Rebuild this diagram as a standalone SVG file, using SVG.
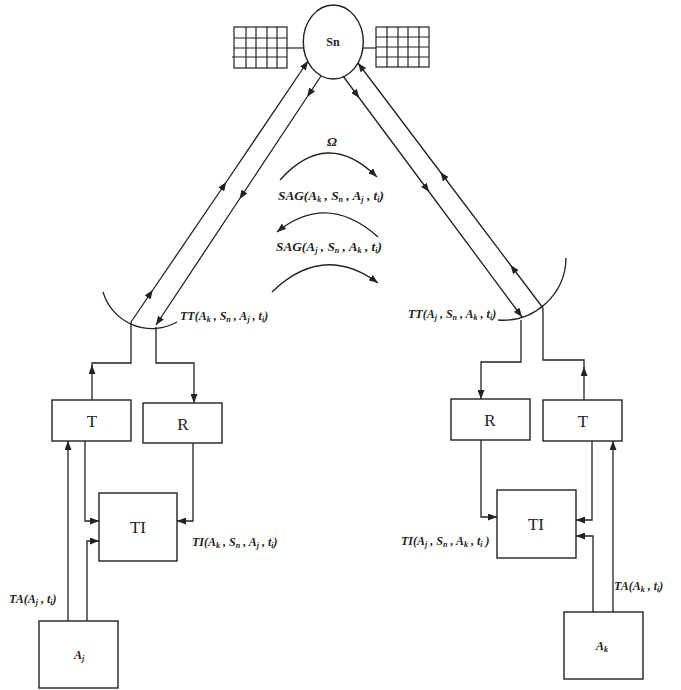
<svg xmlns="http://www.w3.org/2000/svg" width="681" height="690" viewBox="0 0 681 690">
<defs>
<style>
.ln{fill:none;stroke:#222;stroke-width:1.3}
.box{fill:#fff;stroke:#222;stroke-width:1.4}
.grid{fill:none;stroke:#222;stroke-width:1.2}
.lbl{font-family:"Liberation Serif",serif;font-style:italic;font-weight:bold;font-size:12px;fill:#222}
.sag{font-size:13.3px}
.sub{font-size:8px}
.big{font-family:"Liberation Serif",serif;font-size:17px;fill:#222}
.arr{marker-end:url(#ah)}
.arrm{marker-mid:url(#ah);marker-end:url(#ah)}
</style>
<marker id="ah" markerUnits="userSpaceOnUse" markerWidth="9" markerHeight="7" refX="9" refY="3.5" orient="auto">
<path d="M0,0 L9,3.5 L0,7 z" fill="#222"/>
</marker>
</defs>
<rect width="681" height="690" fill="#fff"/>

<g id="satellite">
<g class="grid">
<rect x="234" y="27" width="53" height="41"/>
<path d="M246,27V68M256,27V68M267,27V68M277,27V68M234,38H287M234,48H287M232,57H287"/>
<path d="M287,48H303"/>
<rect x="376" y="27" width="53" height="40"/>
<path d="M387,27V67M398,27V67M408,27V67M419,27V67M376,37H429M376,47H429M376,57H429"/>
<path d="M363,48H376"/>
</g>
<ellipse cx="333.3" cy="42" rx="30" ry="37" class="box"/>
<text x="333" y="46" text-anchor="middle" font-family="Liberation Serif,serif" font-weight="bold" font-size="12" fill="#222">Sn</text>
</g>

<g id="dish-left">
<path class="ln" d="M103,292 A51,51 0 0 0 177,322"/>
</g>
<g id="dish-right">
<path class="ln" d="M498,320 A63,63 0 0 0 566,258"/>
</g>

<g id="T-left"><rect class="box" x="52" y="400" width="79" height="41"/><text class="big" x="92" y="427" text-anchor="middle">T</text></g>
<g id="R-left"><rect class="box" x="143" y="403" width="79" height="40"/><text class="big" x="183" y="430" text-anchor="middle">R</text></g>
<g id="TI-left"><rect class="box" x="99" y="493" width="78" height="68"/><text class="big" x="138" y="533" text-anchor="middle">TI</text></g>
<g id="Aj"><rect class="box" x="39" y="621" width="79" height="67"/><text class="lbl" x="79" y="659" text-anchor="middle" font-size="13">A<tspan class="sub" dy="2">j</tspan></text></g>

<g id="R-right"><rect class="box" x="451" y="399" width="79" height="41"/><text class="big" x="490" y="426" text-anchor="middle">R</text></g>
<g id="T-right"><rect class="box" x="543" y="400" width="79" height="41"/><text class="big" x="583" y="427" text-anchor="middle">T</text></g>
<g id="TI-right"><rect class="box" x="497" y="490" width="79" height="68"/><text class="big" x="536" y="530" text-anchor="middle">TI</text></g>
<g id="Ak"><rect class="box" x="564" y="612" width="79" height="67"/><text class="lbl" x="602" y="650" text-anchor="middle" font-size="13">A<tspan class="sub" dy="2">k</tspan></text></g>

<g id="connectors">
<path class="ln arrm" d="M131,322 L152.8,290 L226.3,182 L308,61"/>
<path class="ln arrm" d="M321,76 L307.1,97 L239.5,199 L156,325"/>
<path class="ln arrm" d="M343,76 L359.3,98 L429.2,192 L522,317"/>
<path class="ln arrm" d="M543,308 L510.5,265 L440.3,172 L358,63"/>

<path class="ln arr" d="M280,180 Q327,127.5 377,177"/>
<path class="ln arr" d="M378,237 Q327,191.5 277,232"/>
<path class="ln arr" d="M272,292 Q323,242.5 378,283"/>

<path class="ln" d="M92,366 V363 H131 V322"/>
<path class="ln arr" d="M92,400 V365"/>
<path class="ln arr" d="M156,327 V363 H194 V403"/>
<path class="ln" d="M584,368 V360 H543 V308"/>
<path class="ln arr" d="M584,400 V367"/>
<path class="ln arr" d="M521,320 V362 H481 V399"/>

<path class="ln arr" d="M68,621 V441"/>
<path class="ln arr" d="M87,621 V541 H99"/>
<path class="ln arr" d="M85,441 V521 H99"/>
<path class="ln arr" d="M193,443 V521 H177"/>

<path class="ln arr" d="M481,440 V517 H497"/>
<path class="ln arr" d="M592,441 V520 H576"/>
<path class="ln arr" d="M593,612 V536 H576"/>
<path class="ln arr" d="M613,612 V441"/>
</g>

<g id="labels">
<text class="lbl sag" x="332" y="146" text-anchor="middle">Ω</text>
<text class="lbl sag" x="278" y="200">SAG(A<tspan class="sub" dy="2">k</tspan><tspan dy="-2"> , S</tspan><tspan class="sub" dy="2">n</tspan><tspan dy="-2"> , A</tspan><tspan class="sub" dy="2">j</tspan><tspan dy="-2"> , t</tspan><tspan class="sub" dy="2">i</tspan><tspan dy="-2">)</tspan></text>
<text class="lbl sag" x="276" y="251">SAG(A<tspan class="sub" dy="2">j</tspan><tspan dy="-2"> , S</tspan><tspan class="sub" dy="2">n</tspan><tspan dy="-2"> , A</tspan><tspan class="sub" dy="2">k</tspan><tspan dy="-2"> , t</tspan><tspan class="sub" dy="2">i</tspan><tspan dy="-2">)</tspan></text>
<text class="lbl" x="180" y="320">TT(A<tspan class="sub" dy="2">k</tspan><tspan dy="-2"> , S</tspan><tspan class="sub" dy="2">n</tspan><tspan dy="-2"> , A</tspan><tspan class="sub" dy="2">j</tspan><tspan dy="-2"> , t</tspan><tspan class="sub" dy="2">i</tspan><tspan dy="-2">)</tspan></text>
<text class="lbl" x="408" y="318">TT(A<tspan class="sub" dy="2">j</tspan><tspan dy="-2"> , S</tspan><tspan class="sub" dy="2">n</tspan><tspan dy="-2"> , A</tspan><tspan class="sub" dy="2">k</tspan><tspan dy="-2"> , t</tspan><tspan class="sub" dy="2">i</tspan><tspan dy="-2">)</tspan></text>
<text class="lbl" x="192" y="546">TI(A<tspan class="sub" dy="2">k</tspan><tspan dy="-2"> , S</tspan><tspan class="sub" dy="2">n</tspan><tspan dy="-2"> , A</tspan><tspan class="sub" dy="2">j</tspan><tspan dy="-2"> , t</tspan><tspan class="sub" dy="2">i</tspan><tspan dy="-2">)</tspan></text>
<text class="lbl" x="401" y="545">TI(A<tspan class="sub" dy="2">j</tspan><tspan dy="-2"> , S</tspan><tspan class="sub" dy="2">n</tspan><tspan dy="-2"> ,  A</tspan><tspan class="sub" dy="2">k</tspan><tspan dy="-2"> , t</tspan><tspan class="sub" dy="2">i</tspan><tspan dy="-2"> )</tspan></text>
<text class="lbl" x="9" y="603">TA(A<tspan class="sub" dy="2">j</tspan><tspan dy="-2"> , t</tspan><tspan class="sub" dy="2">i</tspan><tspan dy="-2">)</tspan></text>
<text class="lbl" x="614" y="590">TA(A<tspan class="sub" dy="2">k</tspan><tspan dy="-2"> , t</tspan><tspan class="sub" dy="2">i</tspan><tspan dy="-2">)</tspan></text>
</g>
</svg>
